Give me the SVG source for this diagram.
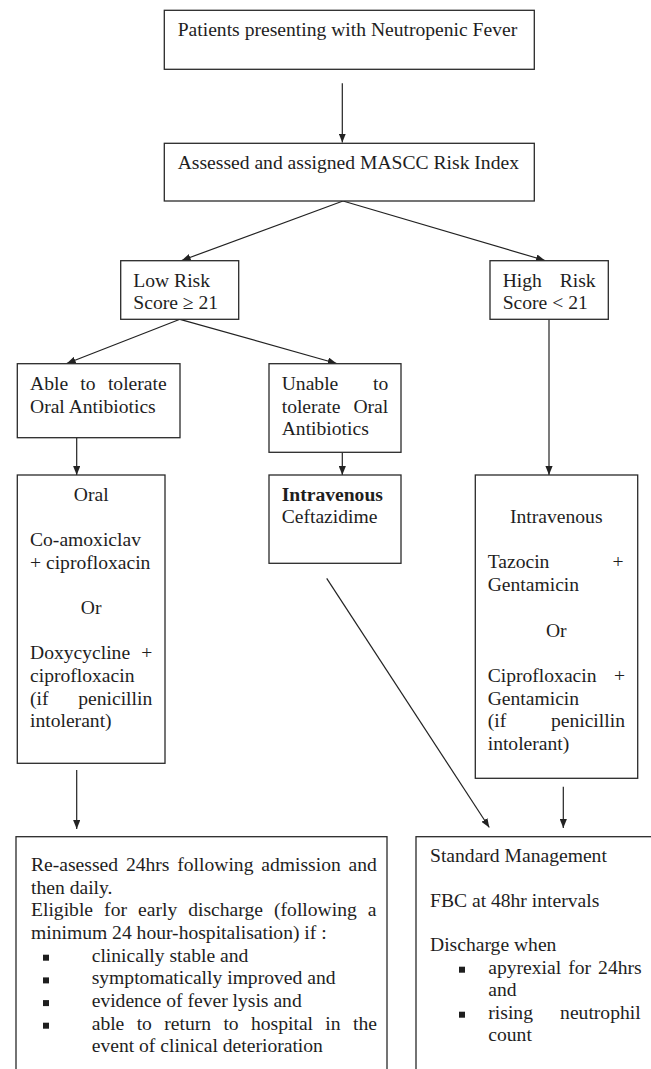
<svg xmlns="http://www.w3.org/2000/svg" width="651" height="1069" viewBox="0 0 651 1069">
<defs>
<marker id="ah" viewBox="0 0 10 8" refX="10" refY="4" markerWidth="9" markerHeight="7.2" markerUnits="userSpaceOnUse" orient="auto">
<path d="M0,0 L10,4 L0,8 z" fill="#222"/>
</marker>
<style>
.box{fill:#fff;stroke:#2a2a2a;stroke-width:1.3}
.t{font-family:"Liberation Serif","Times New Roman",serif;font-size:19.6px;fill:#1e1e1e}
.b{font-weight:bold}
.c{text-anchor:middle}
.ln{stroke:#222;stroke-width:1.2;fill:none;marker-end:url(#ah)}
.bul{fill:#1e1e1e}
</style>
</defs>
<rect width="651" height="1069" fill="#fff"/>

<g id="connectors">
<line class="ln" x1="342.3" y1="83.3" x2="342.3" y2="142.5"/>
<line class="ln" x1="343" y1="201" x2="181.7" y2="260.5"/>
<line class="ln" x1="343" y1="201" x2="545" y2="260.5"/>
<line class="ln" x1="180" y1="319.3" x2="66.7" y2="363.5"/>
<line class="ln" x1="180" y1="319.3" x2="336.7" y2="363.5"/>
<line class="ln" x1="76.7" y1="437.7" x2="76.7" y2="475"/>
<line class="ln" x1="342.3" y1="452.3" x2="342.3" y2="475"/>
<line class="ln" x1="549" y1="319.3" x2="549" y2="475"/>
<line class="ln" x1="76.7" y1="770" x2="76.7" y2="829"/>
<line class="ln" x1="326.7" y1="578.3" x2="489.3" y2="827.5"/>
<line class="ln" x1="563.3" y1="786.7" x2="563.3" y2="828"/>
</g>

<g id="n-fever">
<rect class="box" x="164.3" y="10.3" width="370" height="59"/>
<text class="t" x="177.7" y="36">Patients presenting with Neutropenic Fever</text>
</g>

<g id="n-mascc">
<rect class="box" x="164.3" y="143.3" width="370" height="57.7"/>
<text class="t" x="177.7" y="168.5">Assessed and assigned MASCC Risk Index</text>
</g>

<g id="n-low">
<rect class="box" x="120.7" y="260.7" width="118" height="58.6"/>
<text class="t" x="133.3" y="286.7">Low Risk</text>
<text class="t" x="133.3" y="309.3">Score ≥ 21</text>
</g>

<g id="n-high">
<rect class="box" x="490" y="260.7" width="118.3" height="58.6"/>
<text class="t" x="502.7" y="286.7" style="word-spacing:12.95px">High Risk</text>
<text class="t" x="502.7" y="309.3">Score &lt; 21</text>
</g>

<g id="n-able">
<rect class="box" x="17.3" y="363.7" width="162.7" height="74"/>
<text class="t" x="30" y="390" style="word-spacing:7.38px">Able to tolerate</text>
<text class="t" x="30" y="412.6">Oral Antibiotics</text>
</g>

<g id="n-unable">
<rect class="box" x="269" y="363.7" width="132" height="88.6"/>
<text class="t" x="281.7" y="390" style="word-spacing:29.85px">Unable to</text>
<text class="t" x="281.7" y="412.6" style="word-spacing:8.09px">tolerate Oral</text>
<text class="t" x="281.7" y="435.2">Antibiotics</text>
</g>

<g id="n-oral">
<rect class="box" x="17.3" y="475" width="147.7" height="288.3"/>
<text class="t c" x="91.2" y="500.5">Oral</text>
<text class="t" x="30" y="545.8">Co-amoxiclav</text>
<text class="t" x="30" y="568.5">+ ciprofloxacin</text>
<text class="t c" x="91.2" y="613.8">Or</text>
<text class="t" x="30" y="659.2" style="word-spacing:6.19px">Doxycycline +</text>
<text class="t" x="30" y="681.9">ciprofloxacin</text>
<text class="t" x="30" y="704.6" style="word-spacing:24.85px">(if penicillin</text>
<text class="t" x="30" y="727.2">intolerant)</text>
</g>

<g id="n-iv-ceftazidime">
<rect class="box" x="269" y="475" width="132" height="88.3"/>
<text class="t b" x="281.7" y="500.5">Intravenous</text>
<text class="t" x="281.7" y="523">Ceftazidime</text>
</g>

<g id="n-iv-high">
<rect class="box" x="475.3" y="475" width="162.4" height="303.3"/>
<text class="t c" x="556.3" y="522.5">Intravenous</text>
<text class="t" x="487.7" y="568.3" style="word-spacing:58.22px">Tazocin +</text>
<text class="t" x="487.7" y="591">Gentamicin</text>
<text class="t c" x="556.3" y="636.5">Or</text>
<text class="t" x="487.7" y="681.8" style="word-spacing:12.47px">Ciprofloxacin +</text>
<text class="t" x="487.7" y="704.5">Gentamicin</text>
<text class="t" x="487.7" y="727.2" style="word-spacing:39.85px">(if penicillin</text>
<text class="t" x="487.7" y="749.9">intolerant)</text>
</g>

<g id="n-early-discharge">
<rect class="box" x="16" y="836.7" width="371" height="250"/>
<text class="t" x="31" y="871" style="word-spacing:2.94px">Re-asessed 24hrs following admission and</text>
<text class="t" x="31" y="893.6">then daily.</text>
<text class="t" x="31" y="916.3" style="word-spacing:6.17px">Eligible for early discharge (following a</text>
<text class="t" x="31" y="939">minimum 24 hour-hospitalisation) if :</text>
<rect class="bul" x="43" y="954.7" width="6" height="6"/>
<text class="t" x="91.7" y="961.6">clinically stable and</text>
<rect class="bul" x="43" y="977.4" width="6" height="6"/>
<text class="t" x="91.7" y="984.3">symptomatically improved and</text>
<rect class="bul" x="43" y="1000.1" width="6" height="6"/>
<text class="t" x="91.7" y="1007">evidence of fever lysis and</text>
<rect class="bul" x="43" y="1022.7" width="6" height="6"/>
<text class="t" x="91.7" y="1029.6" style="word-spacing:7.45px">able to return to hospital in the</text>
<text class="t" x="91.7" y="1052.3">event of clinical deterioration</text>
</g>

<g id="n-standard">
<rect class="box" x="416" y="836.7" width="250" height="250"/>
<text class="t" x="430" y="862">Standard Management</text>
<text class="t" x="430" y="906.5">FBC at 48hr intervals</text>
<text class="t" x="430" y="951">Discharge when</text>
<rect class="bul" x="459" y="966.7" width="6" height="6"/>
<text class="t" x="488.3" y="973.5" style="word-spacing:2.13px">apyrexial for 24hrs</text>
<text class="t" x="488.3" y="996">and</text>
<rect class="bul" x="459" y="1011.7" width="6" height="6"/>
<text class="t" x="488.3" y="1018.5" style="word-spacing:22.28px">rising neutrophil</text>
<text class="t" x="488.3" y="1041">count</text>
</g>
</svg>
